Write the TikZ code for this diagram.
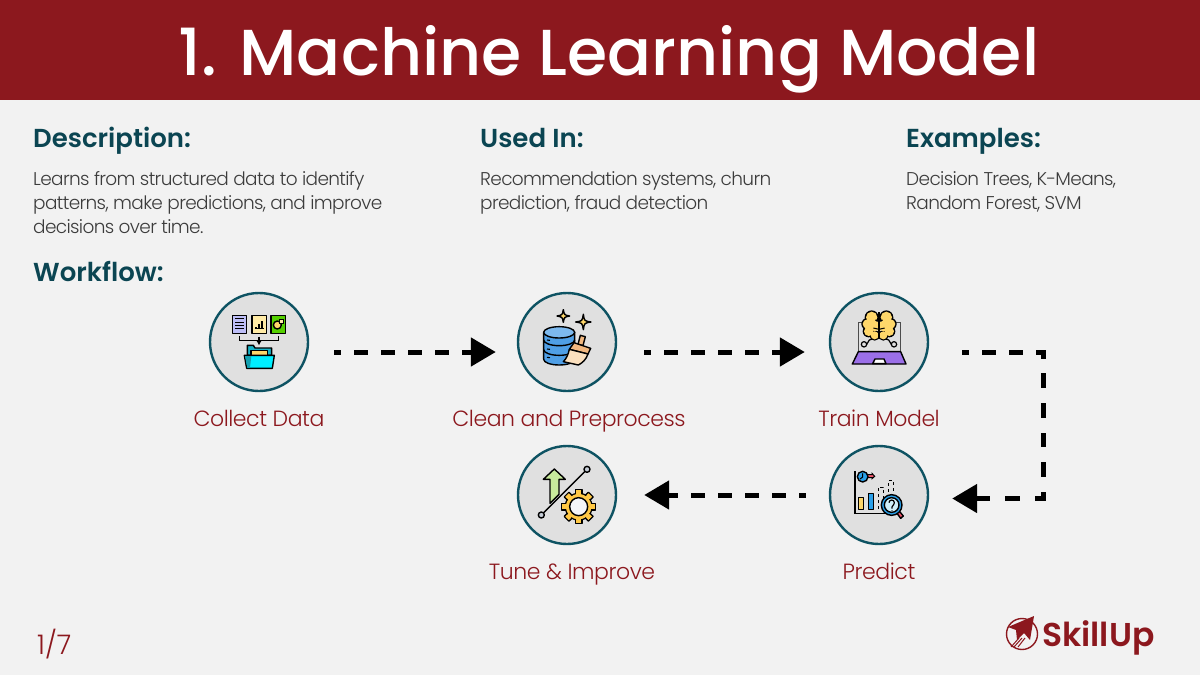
\documentclass[tikz,border=0pt]{standalone}
\usepackage{fontspec}
\setmainfont{Poppins Light}
\newfontfamily\headfont{Poppins SemiBold}
\newfontfamily\titlefont{Poppins Medium}
\newfontfamily\bodyfont[LetterSpace=-3.5]{Poppins Light}
\newfontfamily\stepfont[LetterSpace=-2]{Poppins Light}
\usetikzlibrary{arrows.meta,shadows}

\definecolor{pagebg}{HTML}{F2F2F2}
\definecolor{skillred}{HTML}{8C181E}
\definecolor{headteal}{HTML}{0B4552}
\definecolor{ringteal}{HTML}{0E5363}
\definecolor{ringfill}{HTML}{E0E0E0}
\definecolor{bodygrey}{HTML}{3C3C3C}
\definecolor{lemon}{HTML}{FFD76A}
\definecolor{paleyellow}{HTML}{FFEBA6}
\definecolor{skyblue}{HTML}{2A9FE8}
\definecolor{topblue}{HTML}{7DB9EE}
\definecolor{barrelblue}{HTML}{4F9FE6}
\definecolor{lilac}{HTML}{BDBEF7}
\definecolor{leafgreen}{HTML}{55D000}
\definecolor{foldercyan}{HTML}{00EEFF}
\definecolor{folderback}{HTML}{18B4C8}
\definecolor{folderdark}{HTML}{14A0B0}
\definecolor{brushorange}{HTML}{F2B880}
\definecolor{brushpale}{HTML}{FBE0BE}
\definecolor{laptopviolet}{HTML}{9B6FE8}
\definecolor{pinkred}{HTML}{F0566A}
\definecolor{glasscyan}{HTML}{CFF0FA}
\definecolor{arrowgreen}{HTML}{C8EA9C}
\definecolor{dotgrey}{HTML}{C5CCD6}
\definecolor{gearyellow}{HTML}{FFC845}
\definecolor{gearwhite}{HTML}{F4F5F8}

\tikzset{
	stepring/.style={circle, draw=ringteal, line width=2.4pt, fill=ringfill, minimum size=98pt, inner sep=0pt,
		drop shadow={opacity=.18, shadow xshift=1pt, shadow yshift=-1pt}},
	steplabel/.style={anchor=base, text=skillred, font=\fontsize{22}{24}\stepfont, inner sep=0pt},
	headlabel/.style={anchor=base west, text=headteal, font=\fontsize{26}{28}\headfont, inner sep=0pt},
	bodylabel/.style={anchor=north west, text=bodygrey, align=left, font=\fontsize{18.5}{24}\bodyfont, inner sep=0pt},
	flowarrow/.style={line width=5pt, dash pattern=on 14pt off 13pt, dash phase=7pt, -{Triangle[length=25pt,width=28pt]}},
	ink/.style={draw=black, line width=1.4pt, line join=round},
}

\begin{document}
\begin{tikzpicture}[x=1pt, y=-1pt]
	\useasboundingbox (0,0) rectangle (1200,675);
	\fill[pagebg] (0,0) rectangle (1200,675);
	\fill[skillred] (0,0) rectangle (1200,100);

	% Title and text blocks
	\node[text=white, font=\fontsize{65}{70}\titlefont, inner sep=0pt, anchor=base] (title) at (609,75) {1. Machine Learning Model};

	\node[headlabel] (description) at (33,147) {Description:};
	\node[headlabel] (usedin) at (480,147) {Used In:};
	\node[headlabel] (examples) at (906,147) {Examples:};
	\node[headlabel] (workflow) at (33,281) {Workflow:};

	\node[bodylabel] (descriptiontext) at (33,171) {Learns from structured data to identify\\patterns, make predictions, and improve\\decisions over time.};
	\node[bodylabel] (usedintext) at (480,171) {Recommendation systems, churn\\prediction, fraud detection};
	\node[bodylabel] (examplestext) at (906,171) {Decision Trees, K-Means,\\Random Forest, SVM};

	% Nodes
	\node[stepring] (collect) at (259,342) {};
	\node[stepring] (clean) at (567,342) {};
	\node[stepring] (train) at (879,342) {};
	\node[stepring] (predict) at (879,495) {};
	\node[stepring] (tune) at (567,495) {};

	\node[steplabel] (collectlabel) at (259,426) {Collect Data};
	\node[steplabel] (cleanlabel) at (569,426) {Clean and Preprocess};
	\node[steplabel] (trainlabel) at (879,426) {Train Model};
	\node[steplabel] (predictlabel) at (879,579) {Predict};
	\node[steplabel] (tunelabel) at (572,579) {Tune \& Improve};

	% Edges
	\draw[flowarrow] ([shift={(25,10)}]collect.east) -- ([shift={(-21,10)}]clean.west);
	\draw[flowarrow] ([shift={(27,10)}]clean.east) -- ([shift={(-24,10)}]train.west);
	\draw[flowarrow, dash phase=0pt, dash pattern=on 7pt off 13pt on 14pt off 13pt on 14pt off 13pt on 14pt off 14pt on 15pt off 15pt on 15pt off 15pt on 14pt off 15pt on 15pt off 15pt on 14.5pt off 15pt on 15pt off 15pt on 14pt off 15pt]
		([shift={(33,10)}]train.east) -- (1043,352) -- (1043,498.5) -- ([shift={(23,3.5)}]predict.east);
	\draw[flowarrow] ([shift={(-23,0)}]predict.west) -- ([shift={(27,0)}]tune.east);

	% Collect Data icon
	\begin{scope}[shift={(190,280)}, scale=1/3]
		\filldraw[ink, fill=lilac] (128,106) rectangle (170,160);
		\filldraw[ink, fill=paleyellow] (186,106) rectangle (229,160);
		\filldraw[ink, fill=leafgreen] (243,106) rectangle (287,160);
		\foreach \y in {116,126,136,146} {
			\draw[line width=1pt] (135,\y) -- (163,\y);
		}
		\draw[line width=1pt] (194,146) -- (222,146);
		\foreach \x/\y in {198/140,207/132,216/122} {
			\draw[line width=1.4pt] (\x,146) -- (\x,\y);
		}
		\filldraw[ink, fill=lemon] (262,135) circle (12);
		\filldraw[line width=1pt, fill=paleyellow] (268,118) rectangle (280,130);
		\draw[line width=1.4pt] (148,168) -- (148,181) -- (266,181) -- (266,168);
		\draw[line width=1.4pt, -{Latex[length=5pt,width=6pt]}] (207,170) -- (207,196);
		\filldraw[ink, fill=folderback] (172,226) -- (172,196) -- (190,196) -- (195,204) -- (245,204) -- (245,226) -- cycle;
		\filldraw[ink, fill=lemon] (183,212) rectangle (233,230);
		\filldraw[ink, fill=foldercyan] (163,226) -- (253,226) -- (247,265) -- (170,265) -- cycle;
		\fill[folderdark] (165,228) -- (184,228) -- (180,263) -- (172,263) -- cycle;
	\end{scope}

	% Clean and Preprocess icon
	\begin{scope}[shift={(500,280)}, scale=1/3]
		\foreach \x/\y/\r in {190/108/19, 250/126/23} {
			\filldraw[ink, fill=lemon] (\x,\y-\r) .. controls (\x+3,\y-3) .. (\x+\r,\y) .. controls (\x+3,\y+3) .. (\x,\y+\r) .. controls (\x-3,\y+3) .. (\x-\r,\y) .. controls (\x-3,\y-3) .. cycle;
		}
		\filldraw[ink, fill=barrelblue] (131,157) -- (131,238) arc (180:0:46.5 and 17) -- (224,157) -- cycle;
		\draw[ink] (131,180) arc (180:0:46.5 and 17);
		\draw[ink] (131,209) arc (180:0:46.5 and 17);
		\filldraw[ink, fill=topblue] (177.5,157) ellipse (46.5 and 17);
		\foreach \y in {180,207,232} {
			\draw[line width=1.1pt] (141,\y) -- (150,\y+1);
		}
		\filldraw[ink, fill=brushorange] (241,166) -- (256,170) -- (249,197) -- (234,193) -- cycle;
		\filldraw[ink, fill=brushorange] (222,188) -- (272,205) -- (264,222) -- (208,208) -- cycle;
		\filldraw[ink, fill=brushpale] (208,208) -- (264,222) .. controls (258,240) and (245,250) .. (235,255) -- (190,245) .. controls (200,235) and (205,222) .. cycle;
	\end{scope}

	% Train Model icon
	\begin{scope}[shift={(810,280)}, scale=1/3]
		\draw[draw=black!70, line width=1.2pt] (145,215) -- (145,128) -- (272,128) -- (272,215);
		\filldraw[ink, fill=laptopviolet] (145,215) -- (272,215) -- (288,252) -- (127,252) -- cycle;
		\filldraw[ink, fill=white] (195,237) -- (222,237) -- (228,251) -- (188,251) -- cycle;
		\draw[line width=1.2pt] (170,193) -- (178,180) -- (190,176);
		\draw[line width=1.2pt] (244,193) -- (236,180) -- (224,176);
		\filldraw[line width=1.2pt, fill=ringfill] (162,193) circle (8);
		\filldraw[line width=1.2pt, fill=ringfill] (252,193) circle (8);
		\foreach \x/\y/\r in {185/112/17, 172/132/14, 176/154/14, 194/166/12, 229/112/17, 242/132/14, 238/154/14, 220/166/12} {
			\fill[black] (\x,\y) circle (\r+4);
		}
		\foreach \x/\y/\r in {185/112/17, 172/132/14, 176/154/14, 194/166/12, 194/138/16, 229/112/17, 242/132/14, 238/154/14, 220/166/12, 220/138/16} {
			\fill[lemon] (\x,\y) circle (\r);
		}
		\draw[line width=1.2pt] (207,97) -- (207,178);
		\draw[line width=1pt] (207,125) -- (196,120) (207,148) -- (190,144);
		\draw[line width=1pt] (207,125) -- (218,120) (207,148) -- (224,144);
	\end{scope}

	% Predict icon
	\begin{scope}[shift={(810,435)}, scale=1/3]
		\draw[line width=1.4pt] (135,108) -- (135,235) -- (225,235);
		\filldraw[ink, fill=lemon] (146,187) rectangle (161,223);
		\filldraw[ink, fill=skyblue] (175,175) rectangle (190,223);
		\draw[line width=1pt, dashed] (205,222) -- (205,156) -- (220,156) -- (220,200);
		\draw[line width=1pt, dashed] (235,170) -- (235,136) -- (250,136) -- (250,170);
		\draw[line width=1pt, fill=pinkred] (172,119) -- (186,119) -- (186,115) -- (194,124) -- (186,131) -- (186,128) -- (172,128) -- cycle;
		\filldraw[ink, fill=skyblue] (158,125) circle (16);
		\draw[line width=1pt] (158,115) -- (158,126) -- (150,132);
		\filldraw[ink, fill=pinkred] (258,231) -- (265,225) -- (280,243) -- (272,250) -- cycle;
		\filldraw[ink, fill=skyblue] (245,210) circle (31);
		\filldraw[ink, fill=glasscyan] (245,210) circle (22);
		\draw[line width=1.2pt] (237,203) arc (180:395:8) -- (246,216) -- (246,221) (246,226) -- (246,228);
	\end{scope}

	% Tune and Improve icon
	\begin{scope}[shift={(500,435)}, scale=1/3]
		\filldraw[ink, fill=arrowgreen] (163,102) -- (196,133) -- (177,133) -- (177,178) -- (150,205) -- (150,133) -- (130,133) -- cycle;
		\draw[line width=1.4pt] (124,240) -- (261,103);
		\filldraw[ink, fill=dotgrey] (124,240) circle (9);
		\filldraw[ink, fill=dotgrey] (261,103) circle (9);
		\foreach \a in {0,45,...,315} {
			\filldraw[ink, fill=gearyellow, rotate around={\a:(236,215)}] (226,164) rectangle (246,180);
		}
		\filldraw[ink, fill=gearyellow] (236,215) circle (40);
		\fill[gearyellow] (236,215) circle (38);
		\foreach \a in {0,45,...,315} {
			\fill[gearyellow, rotate around={\a:(236,215)}] (229,166) rectangle (243,182);
		}
		\filldraw[ink, fill=gearwhite] (236,215) circle (27);
	\end{scope}

	% Footer
	\node[anchor=base west, text=skillred, font=\fontsize{27}{29}\selectfont, inner sep=0pt] (pagenumber) at (37,654) {1/7};
	\node[anchor=base west, text=skillred, font=\fontsize{33}{36}\headfont, inner sep=0pt] (logotext) at (1042,646) {SkillUp};
	\node[circle, draw=skillred, line width=1.4pt, minimum size=31pt, inner sep=0pt] (logoring) at (1022,634) {};
	\fill[skillred] (1034,616) -- (1030,640) -- (1024,633) -- (1017,640) -- (1016,630) -- (1008,627) -- cycle;
	\foreach \a/\b in {1011/1019, 1014/1022, 1018/1025} {
		\draw[skillred, line width=1pt] (\a,647) -- (\b,638);
	}
\end{tikzpicture}
\end{document}
